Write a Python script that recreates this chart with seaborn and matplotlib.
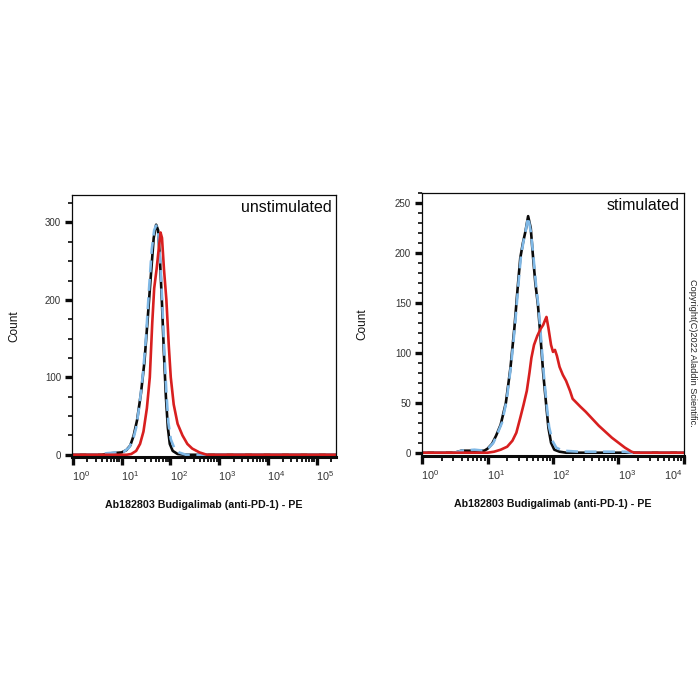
import matplotlib
matplotlib.use("Agg")
import matplotlib.pyplot as plt
import matplotlib.ticker as mticker
import matplotlib.transforms as mtransforms
import seaborn as sns
import numpy as np

# Histogram traces: x as log10(PE intensity), y as count
# unstimulated panel
unstim_black_log = [-0.1, 0.6, 0.8, 1.0, 1.1, 1.18, 1.25, 1.32, 1.4, 1.47, 1.53, 1.6, 1.66, 1.71,
                    1.75, 1.79, 1.83, 1.87, 1.91, 1.95, 1.99, 2.05, 2.15, 2.3, 5.5]
unstim_black_cnt = [0, 0, 2, 3, 6, 12, 25, 45, 80, 120, 170, 230, 280, 297,
                    290, 250, 195, 130, 75, 35, 14, 5, 1, 0, 0]

unstim_blue_log = [-0.1, 0.5, 0.7, 0.9, 1.05, 1.15, 1.23, 1.3, 1.37, 1.44, 1.5, 1.56, 1.62, 1.67, 1.71,
                   1.75, 1.8, 1.84, 1.88, 1.92, 1.96, 2.01, 2.08, 2.18, 2.32, 5.5]
unstim_blue_cnt = [0, 0, 2, 3, 4, 9, 18, 35, 65, 105, 150, 210, 265, 290, 296,
                   288, 245, 190, 130, 80, 42, 20, 9, 3, 0, 0]

unstim_red_log = [-0.1, 1.1, 1.2, 1.3, 1.38, 1.45, 1.52, 1.58, 1.63, 1.67, 1.72, 1.77, 1.8, 1.83,
                  1.87, 1.92, 1.97, 2.01, 2.07, 2.15, 2.25, 2.35, 2.45, 2.6, 2.75, 5.5]
unstim_red_cnt = [0, 0, 1, 5, 14, 30, 60, 100, 170, 215, 240, 270, 287, 280,
                  240, 200, 140, 100, 65, 40, 25, 14, 8, 3, 0, 0]

# stimulated panel
stim_black_log = [-0.1, 0.5, 0.6, 0.8, 0.95, 1.0, 1.07, 1.13, 1.2, 1.28, 1.35, 1.41, 1.46, 1.5, 1.54,
                  1.58, 1.62, 1.66, 1.69, 1.73, 1.77, 1.81, 1.85, 1.89, 1.93, 1.97, 2.02, 2.1, 2.2, 4.1]
stim_black_cnt = [0, 0, 2, 2, 2, 4, 9, 17, 28, 50, 85, 125, 165, 195, 210,
                  222, 237, 225, 200, 170, 148, 115, 80, 52, 25, 10, 3, 1, 0, 0]

stim_blue_log = [-0.1, 0.5, 0.6, 0.8, 0.95, 1.02, 1.09, 1.15, 1.22, 1.29, 1.36, 1.42, 1.47, 1.51, 1.55,
                 1.59, 1.62, 1.66, 1.7, 1.74, 1.78, 1.82, 1.86, 1.9, 1.94, 1.99, 2.05, 2.15, 2.4, 3.1, 3.2, 4.1]
stim_blue_cnt = [0, 0, 2, 3, 2, 5, 10, 19, 30, 52, 88, 128, 168, 197, 212,
                 225, 236, 222, 197, 168, 145, 112, 78, 50, 26, 12, 5, 2, 1, 1, 0, 0]

stim_red_log = [-0.1, 1.0, 1.1, 1.2, 1.3, 1.38, 1.44, 1.5, 1.55, 1.6, 1.64, 1.67, 1.71, 1.76, 1.81,
                1.85, 1.88, 1.9, 1.93, 1.97, 2.0, 2.03, 2.06, 2.1, 2.15, 2.2, 2.26, 2.3, 2.36, 2.42,
                2.5, 2.6, 2.7, 2.8, 2.9, 3.0, 3.1, 3.2, 3.25, 4.1]
stim_red_cnt = [0, 0, 1, 3, 6, 12, 20, 35, 48, 62, 80, 95, 108, 117, 124,
                128, 133, 136, 125, 108, 101, 103, 97, 86, 78, 72, 62, 54, 50, 46,
                41, 34, 27, 21, 15, 10, 5, 1, 0, 0]

panel_titles = ["unstimulated", "stimulated"]
x_label = "Ab182803 Budigalimab (anti-PD-1) - PE"
y_label = "Count"
copyright_text = "Copyright(C)2022 Aladdin Scientific."

BLACK = "#0a0a0a"
BLUE = "#7fb8e6"
RED = "#d81f1f"

sns.set_style("ticks")
plt.rcParams["font.family"] = ["Liberation Sans", "DejaVu Sans"]

fig = plt.figure(figsize=(7, 7), dpi=100)
ax_l = fig.add_axes([0.103, 0.347, 0.377, 0.374])
ax_r = fig.add_axes([0.603, 0.349, 0.374, 0.375])

panels = [
    (ax_l, unstim_black_log, unstim_black_cnt, unstim_blue_log, unstim_blue_cnt,
     unstim_red_log, unstim_red_cnt, (0.97, 2.5e5), (-3, 335), 100, 25, -0.197),
    (ax_r, stim_black_log, stim_black_cnt, stim_blue_log, stim_blue_cnt,
     stim_red_log, stim_red_cnt, (1.0, 1.0e4), (-3, 260), 50, 10, -0.206),
]

for i, (ax, bl, bc, ul, uc, rl, rc, xlim, ylim, ymaj, ymin, ylab_x) in enumerate(panels):
    sns.lineplot(x=np.power(10.0, bl), y=bc, ax=ax, color=BLACK, linewidth=1.9,
                 errorbar=None, sort=False)
    sns.lineplot(x=np.power(10.0, ul), y=uc, ax=ax, color=BLUE, linewidth=1.9,
                 linestyle=(0, (4.5, 2.5)), errorbar=None, sort=False)
    sns.lineplot(x=np.power(10.0, rl), y=rc, ax=ax, color=RED, linewidth=1.9,
                 errorbar=None, sort=False)

    ax.set_xscale("log")
    ax.set_xlim(*xlim)
    ax.set_ylim(*ylim)

    ax.xaxis.set_major_locator(mticker.LogLocator(base=10, numticks=12))
    ax.xaxis.set_minor_locator(mticker.LogLocator(base=10, subs=np.arange(2, 10), numticks=12))
    ax.xaxis.set_minor_formatter(mticker.NullFormatter())
    ax.yaxis.set_major_locator(mticker.MultipleLocator(ymaj))
    ax.yaxis.set_minor_locator(mticker.MultipleLocator(ymin))

    ax.tick_params(axis="x", which="major", length=6, width=2.4, pad=3,
                   labelsize=7.8, colors=BLACK, labelcolor="#333333")
    ax.tick_params(axis="x", which="minor", length=3.5, width=1.3, colors=BLACK)
    ax.tick_params(axis="y", which="major", length=5, width=2.4, pad=3,
                   labelsize=7, colors=BLACK, labelcolor="#333333")
    ax.tick_params(axis="y", which="minor", length=3, width=1.2, colors=BLACK)

    # shift decade labels a little right, as in the source software;
    # a label sitting on the right edge is pulled back inside instead
    fig.canvas.draw()
    xmax_tick = ax.get_xlim()[1]
    for tick in ax.xaxis.get_major_ticks():
        loc = tick.get_loc()
        if xmax_tick / loc < 1.05:
            dx = -7.5 / 72
        else:
            dx = 6 / 72
        offset = mtransforms.ScaledTranslation(dx, 0, fig.dpi_scale_trans)
        tick.label1.set_transform(tick.label1.get_transform() + offset)

    for side in ["top", "right", "left"]:
        ax.spines[side].set_linewidth(0.9)
        ax.spines[side].set_color(BLACK)
    ax.spines["bottom"].set_linewidth(2.2)
    ax.spines["bottom"].set_color(BLACK)

    ax.set_xlabel(x_label, fontsize=7.7, fontweight="bold", color="#111111")
    ax.set_ylabel(y_label, fontsize=8.5, color="#111111")
    ax.xaxis.set_label_coords(0.5, -0.165)
    ax.yaxis.set_label_coords(ylab_x, 0.5)

    ax.text(0.985, 0.955, panel_titles[i], transform=ax.transAxes, ha="right", va="center",
            fontsize=11.5, color=BLACK)

fig.text(0.989, 0.496, copyright_text, rotation=-90, ha="center", va="center",
         fontsize=6.6, color="#222222")

plt.savefig("out.png", dpi=100, facecolor="white")
plt.close()
